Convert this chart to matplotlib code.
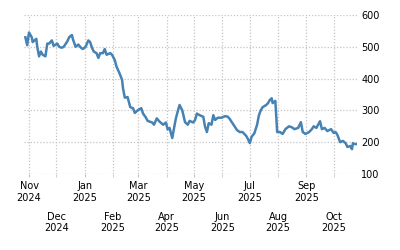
import matplotlib
matplotlib.use("Agg")
import matplotlib.pyplot as plt
import matplotlib.dates as mdates
import pandas as pd

# Days since 2024-11-01 and closing values
day_offsets = [-4, -2, 0, 3, 4, 8, 9, 11, 13, 15, 18, 20, 22, 25, 27, 31, 33, 36, 38, 42,
               44, 47, 48, 51, 54, 57, 59, 62, 65, 67, 69, 71, 74, 76, 78, 81, 83, 85, 89, 91,
               94, 96, 99, 102, 103, 105, 108, 111, 114, 116, 119, 123, 125, 128, 130, 135, 137, 140, 143, 147,
               150, 152, 154, 157, 159, 161, 163, 165, 168, 171, 174, 176, 180, 182, 184, 187, 191, 193, 195, 197,
               200, 202, 204, 207, 211, 215, 218, 220, 223, 228, 231, 234, 238, 240, 242, 244, 247, 250, 252, 254,
               256, 260, 262, 264, 266, 267, 270, 271, 272, 275, 278, 281, 285, 288, 291, 295, 298, 300, 303, 307,
               310, 312, 315, 319, 321, 324, 327, 331, 334, 336, 338, 341, 344, 347, 349, 352, 354, 355, 357, 360]
values = [530, 505, 545, 530, 515, 525, 500, 470, 485, 475, 470, 510, 510, 520, 503, 510, 500, 497, 500, 517,
          530, 537, 525, 500, 507, 497, 493, 500, 520, 515, 497, 485, 480, 465, 480, 480, 493, 475, 480, 475,
          458, 437, 418, 396, 370, 340, 342, 310, 307, 292, 300, 307, 290, 278, 267, 262, 255, 275, 265, 255,
          262, 240, 245, 213, 245, 275, 297, 317, 300, 263, 255, 267, 262, 270, 290, 285, 280, 248, 232, 260,
          255, 285, 270, 277, 277, 282, 280, 273, 260, 238, 232, 232, 220, 210, 197, 217, 228, 255, 285, 300,
          310, 317, 323, 333, 338, 323, 330, 280, 232, 232, 226, 241, 250, 247, 241, 245, 263, 232, 226, 232,
          241, 250, 245, 266, 241, 245, 235, 241, 229, 232, 223, 200, 204, 197, 185, 188, 178, 197, 194, 194]
y_ticks = [100, 200, 300, 400, 500, 600]

start = pd.Timestamp("2024-11-01")
dates = start + pd.to_timedelta(day_offsets, unit="D")

fig = plt.figure(figsize=(4, 2.5), dpi=100)
ax = fig.add_axes([0.06, 0.304, 0.8325, 0.636])
ax.plot(dates, values, color="#4682b4", linewidth=1.8, solid_joinstyle="round")

ax.set_xlim(start - pd.Timedelta(days=5.5), start + pd.Timedelta(days=359.5))
ax.set_ylim(100, 600)
ax.set_yticks(y_ticks)
ax.yaxis.tick_right()

ax.xaxis.set_major_locator(mdates.MonthLocator(bymonth=[1, 3, 5, 7, 9, 11]))
ax.xaxis.set_minor_locator(mdates.MonthLocator(bymonth=[2, 4, 6, 8, 10, 12]))
fmt = mdates.DateFormatter("%b\n%Y")
ax.xaxis.set_major_formatter(fmt)
ax.xaxis.set_minor_formatter(fmt)

for s in ax.spines.values():
    s.set_visible(False)

grid_kw = dict(color="#c4c4c4", linestyle=(0, (1, 1.5)), linewidth=0.9)
ax.grid(True, which="both", axis="x", **grid_kw)
ax.grid(True, which="major", axis="y", **grid_kw)

ax.tick_params(axis="x", which="major", length=2, color="#c4c4c4", pad=3, labelsize=7)
ax.tick_params(axis="x", which="minor", length=2, color="#c4c4c4", pad=25, labelsize=7)
ax.tick_params(axis="y", which="major", length=0, pad=3, labelsize=7)

fig.savefig("out.png", dpi=100)
